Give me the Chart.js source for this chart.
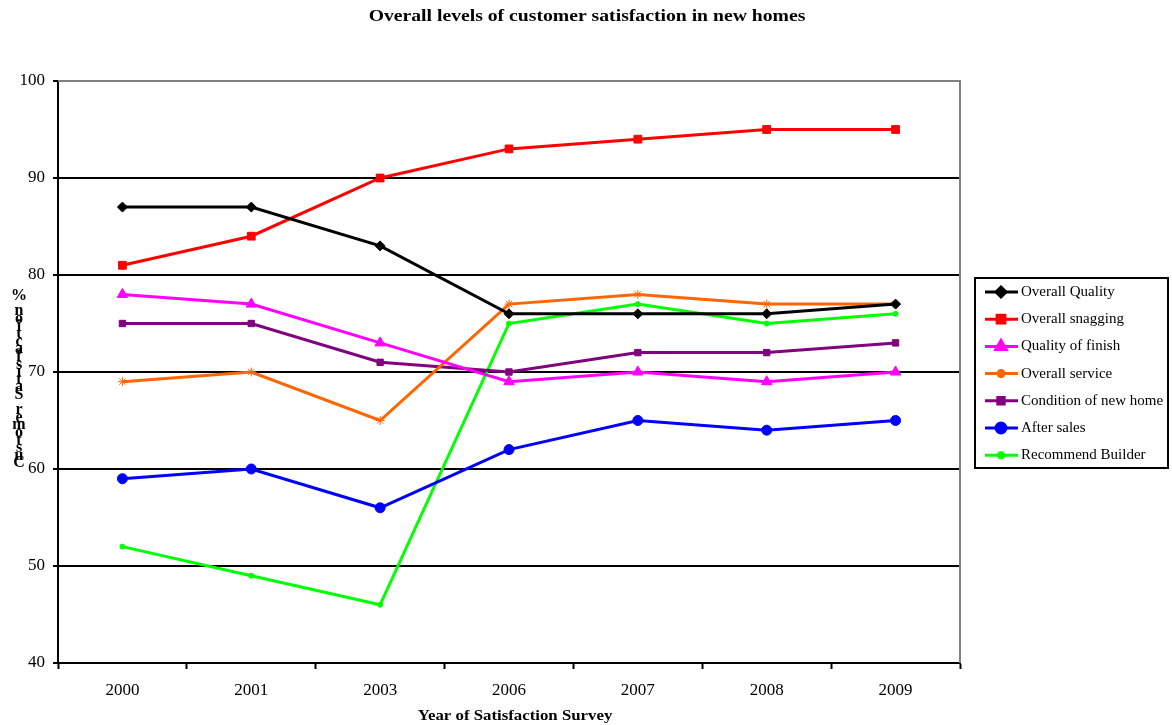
<!doctype html>
<html lang="en">
<head>
    <meta charset="utf-8">
    <title>Overall levels of customer satisfaction in new homes</title>
    <style>
        * { margin: 0; padding: 0; }
        body { background: white; }
        .chartBox { width: 1172px; height: 725px; }
    </style>
</head>
<body>
    <div class="chartBox">
        <canvas id="myChart"></canvas>
    </div>
    <script src="https://cdn.jsdelivr.net/npm/chart.js"></script>
    <script>
        // data
        const years = ['2000', '2001', '2003', '2006', '2007', '2008', '2009']
        const overallQuality = [87, 87, 83, 76, 76, 76, 77]
        const overallSnagging = [81, 84, 90, 93, 94, 95, 95]
        const qualityOfFinish = [78, 77, 73, 69, 70, 69, 70]
        const overallService = [69, 70, 65, 77, 78, 77, 77]
        const conditionOfHome = [75, 75, 71, 70, 72, 72, 73]
        const afterSales = [59, 60, 56, 62, 65, 64, 65]
        const recommendBuilder = [52, 49, 46, 75, 77, 75, 76]
        const yTicks = [40, 50, 60, 70, 80, 90, 100]

        const chartTitle = 'Overall levels of customer satisfaction in new homes'
        const xTitle = 'Year of Satisfaction Survey'
        const yTitle = 'Customer Satisfaction %'

        const serif = "'Liberation Serif', 'Times New Roman', serif"

        function series(label, values, color, pointStyle, radius) {
            return {
                label: label,
                data: values,
                borderColor: color,
                backgroundColor: color,
                borderWidth: 3,
                pointStyle: pointStyle,
                pointRadius: radius,
                pointHoverRadius: radius,
                pointBorderWidth: 1,
                tension: 0
            }
        }

        const data = {
            labels: years,
            datasets: [
                series('Overall Quality', overallQuality, '#000000', 'rectRot', 5),
                series('Overall snagging', overallSnagging, '#ff0000', 'rect', 5.5),
                series('Quality of finish', qualityOfFinish, '#ff00ff', 'triangle', 6),
                series('Overall service', overallService, '#ff6600', 'star', 4.5),
                series('Condition of new home', conditionOfHome, '#800080', 'rect', 4.5),
                series('After sales', afterSales, '#0000ff', 'circle', 5),
                series('Recommend Builder', recommendBuilder, '#00ff00', 'circle', 2.5)
            ]
        }

        // stretched text, the original is a bit wider than plain Times
        function wideText(ctx, text, x, y, stretch) {
            ctx.save()
            ctx.translate(x, y)
            ctx.scale(stretch, 1)
            ctx.fillText(text, 0, 0)
            ctx.restore()
        }

        // titles, frame and boxed legend
        const extras = {
            id: 'extras',
            afterDraw(chart) {
                const { ctx, width, chartArea: { left, right, top, bottom } } = chart
                ctx.save()
                // gray plot border top / right
                ctx.strokeStyle = '#808080'
                ctx.lineWidth = 2
                ctx.beginPath()
                ctx.moveTo(left, top)
                ctx.lineTo(right, top)
                ctx.lineTo(right, bottom)
                ctx.stroke()

                ctx.fillStyle = '#000'
                ctx.textAlign = 'center'
                ctx.textBaseline = 'middle'
                ctx.font = 'bold 16px ' + serif
                wideText(ctx, chartTitle, width / 2 + 1, 17, 1.23)
                ctx.font = 'bold 14px ' + serif
                wideText(ctx, xTitle, (left + right) / 2 + 6, 716, 1.2)

                // y title, letters stacked
                ctx.font = 'bold 16px ' + serif
                yTitle.split('').reverse().forEach((ch, i) => {
                    ctx.fillText(ch, 19, 296 + i * 7.6)
                })

                // legend
                const lx = 975, ly = 278, lw = 193, lh = 190
                ctx.strokeStyle = '#000'
                ctx.lineWidth = 2
                ctx.strokeRect(lx, ly, lw, lh)
                ctx.font = '15px ' + serif
                ctx.textAlign = 'left'
                chart.data.datasets.forEach((ds, i) => {
                    const y = 292 + i * 27.2
                    ctx.strokeStyle = ds.borderColor
                    ctx.lineWidth = 3
                    ctx.beginPath()
                    ctx.moveTo(985, y)
                    ctx.lineTo(1018, y)
                    ctx.stroke()
                    ctx.fillStyle = ds.borderColor
                    Chart.helpers.drawPoint(ctx, {
                        pointStyle: ds.pointStyle,
                        radius: ds.pointRadius,
                        borderWidth: 1,
                        rotation: 0
                    }, 1001, y)
                    ctx.fillStyle = '#000'
                    ctx.fillText(ds.label, 1021, y)
                })
                ctx.restore()
            }
        }

        const config = {
            type: 'line',
            data,
            options: {
                responsive: true,
                maintainAspectRatio: false,
                animation: false,
                layout: {
                    padding: { left: 0, right: 212, top: 81, bottom: 0 }
                },
                plugins: {
                    legend: { display: false },
                    tooltip: { enabled: false },
                    title: { display: false }
                },
                scales: {
                    x: {
                        offset: true,
                        afterFit(scale) { scale.height = 62 },
                        grid: {
                            offset: true,
                            drawOnChartArea: false,
                            drawTicks: true,
                            tickLength: 6,
                            tickWidth: 2,
                            tickColor: '#000'
                        },
                        border: { color: '#000', width: 2 },
                        ticks: {
                            color: '#000',
                            padding: 11,
                            maxRotation: 0,
                            font: { family: serif, size: 17 }
                        }
                    },
                    y: {
                        min: 40,
                        max: 100,
                        afterFit(scale) { scale.width = 58 },
                        afterBuildTicks(scale) {
                            scale.ticks = yTicks.map(v => ({ value: v }))
                        },
                        grid: {
                            color: ctx => ctx.tick && ctx.tick.value === 100 ? '#808080' : '#000',
                            lineWidth: 2,
                            tickLength: 5,
                            tickColor: '#000'
                        },
                        border: { color: '#000', width: 2 },
                        ticks: {
                            color: '#000',
                            padding: 8,
                            font: { family: serif, size: 17 }
                        }
                    }
                }
            },
            plugins: [extras]
        }

        const myChart = new Chart(document.getElementById('myChart'), config)
    </script>
</body>
</html>
